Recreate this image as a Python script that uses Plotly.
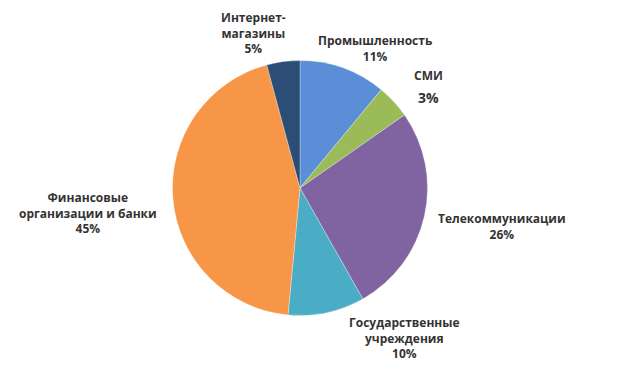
import plotly.graph_objects as go

categories = ["Промышленность", "СМИ", "Телекоммуникации", "Государственные учреждения",
              "Финансовые организации и банки", "Интернет-магазины"]
# slice sizes
values = [11.0, 4.3, 26.5, 9.7, 44.3, 4.2]
# labels as printed on the chart
label_texts = ["Промышленность<br>11%", "СМИ", "Телекоммуникации<br>26%",
               "Государственные<br>учреждения<br>10%", "Финансовые<br>организации и банки<br>45%",
               "Интернет-<br>магазины<br>5%"]
extra_label = "3%"
colors = ["#5A8ED6", "#9BBB59", "#8064A2", "#4BACC6", "#F79646", "#2C4D75"]

W, H = 640, 370
OFF = 8  # page body margin offset
cx, cy, r = 300 - OFF, 188 - OFF, 127.5

fig = go.Figure(go.Pie(
    labels=categories, values=values, sort=False, direction="clockwise", rotation=0,
    marker=dict(colors=colors, line=dict(color="rgba(255,255,255,0.6)", width=0.5)),
    textinfo="none", hoverinfo="label", showlegend=False,
    domain=dict(x=[(cx - r) / W, (cx + r) / W], y=[(H - cy - r) / H, (H - cy + r) / H]),
))

# label centres (pixels in page)
pos = [(375, 48), (428, 75), (502, 227), (404, 338), (88, 213), (253, 33)]
font = dict(family="Open Sans, Lato, sans-serif", size=12, color="#333333")
for (x, y), t in zip(pos, label_texts):
    fig.add_annotation(x=(x - OFF) / W, y=1 - (y - OFF) / H, xref="paper", yref="paper",
                       text="<b>" + t + "</b>",
                       showarrow=False, font=font, align="center", xanchor="center", yanchor="middle")
fig.add_annotation(x=(428 - OFF) / W, y=1 - (97 - OFF) / H, xref="paper", yref="paper",
                   text="<b>" + extra_label + "</b>", showarrow=False,
                   font=dict(family="Open Sans, Lato, sans-serif", size=14, color="#333333"),
                   xanchor="center", yanchor="middle")

fig.update_layout(width=W, height=H, margin=dict(l=0, r=0, t=0, b=0),
                  paper_bgcolor="white", plot_bgcolor="white")
fig.write_html("out.html")
